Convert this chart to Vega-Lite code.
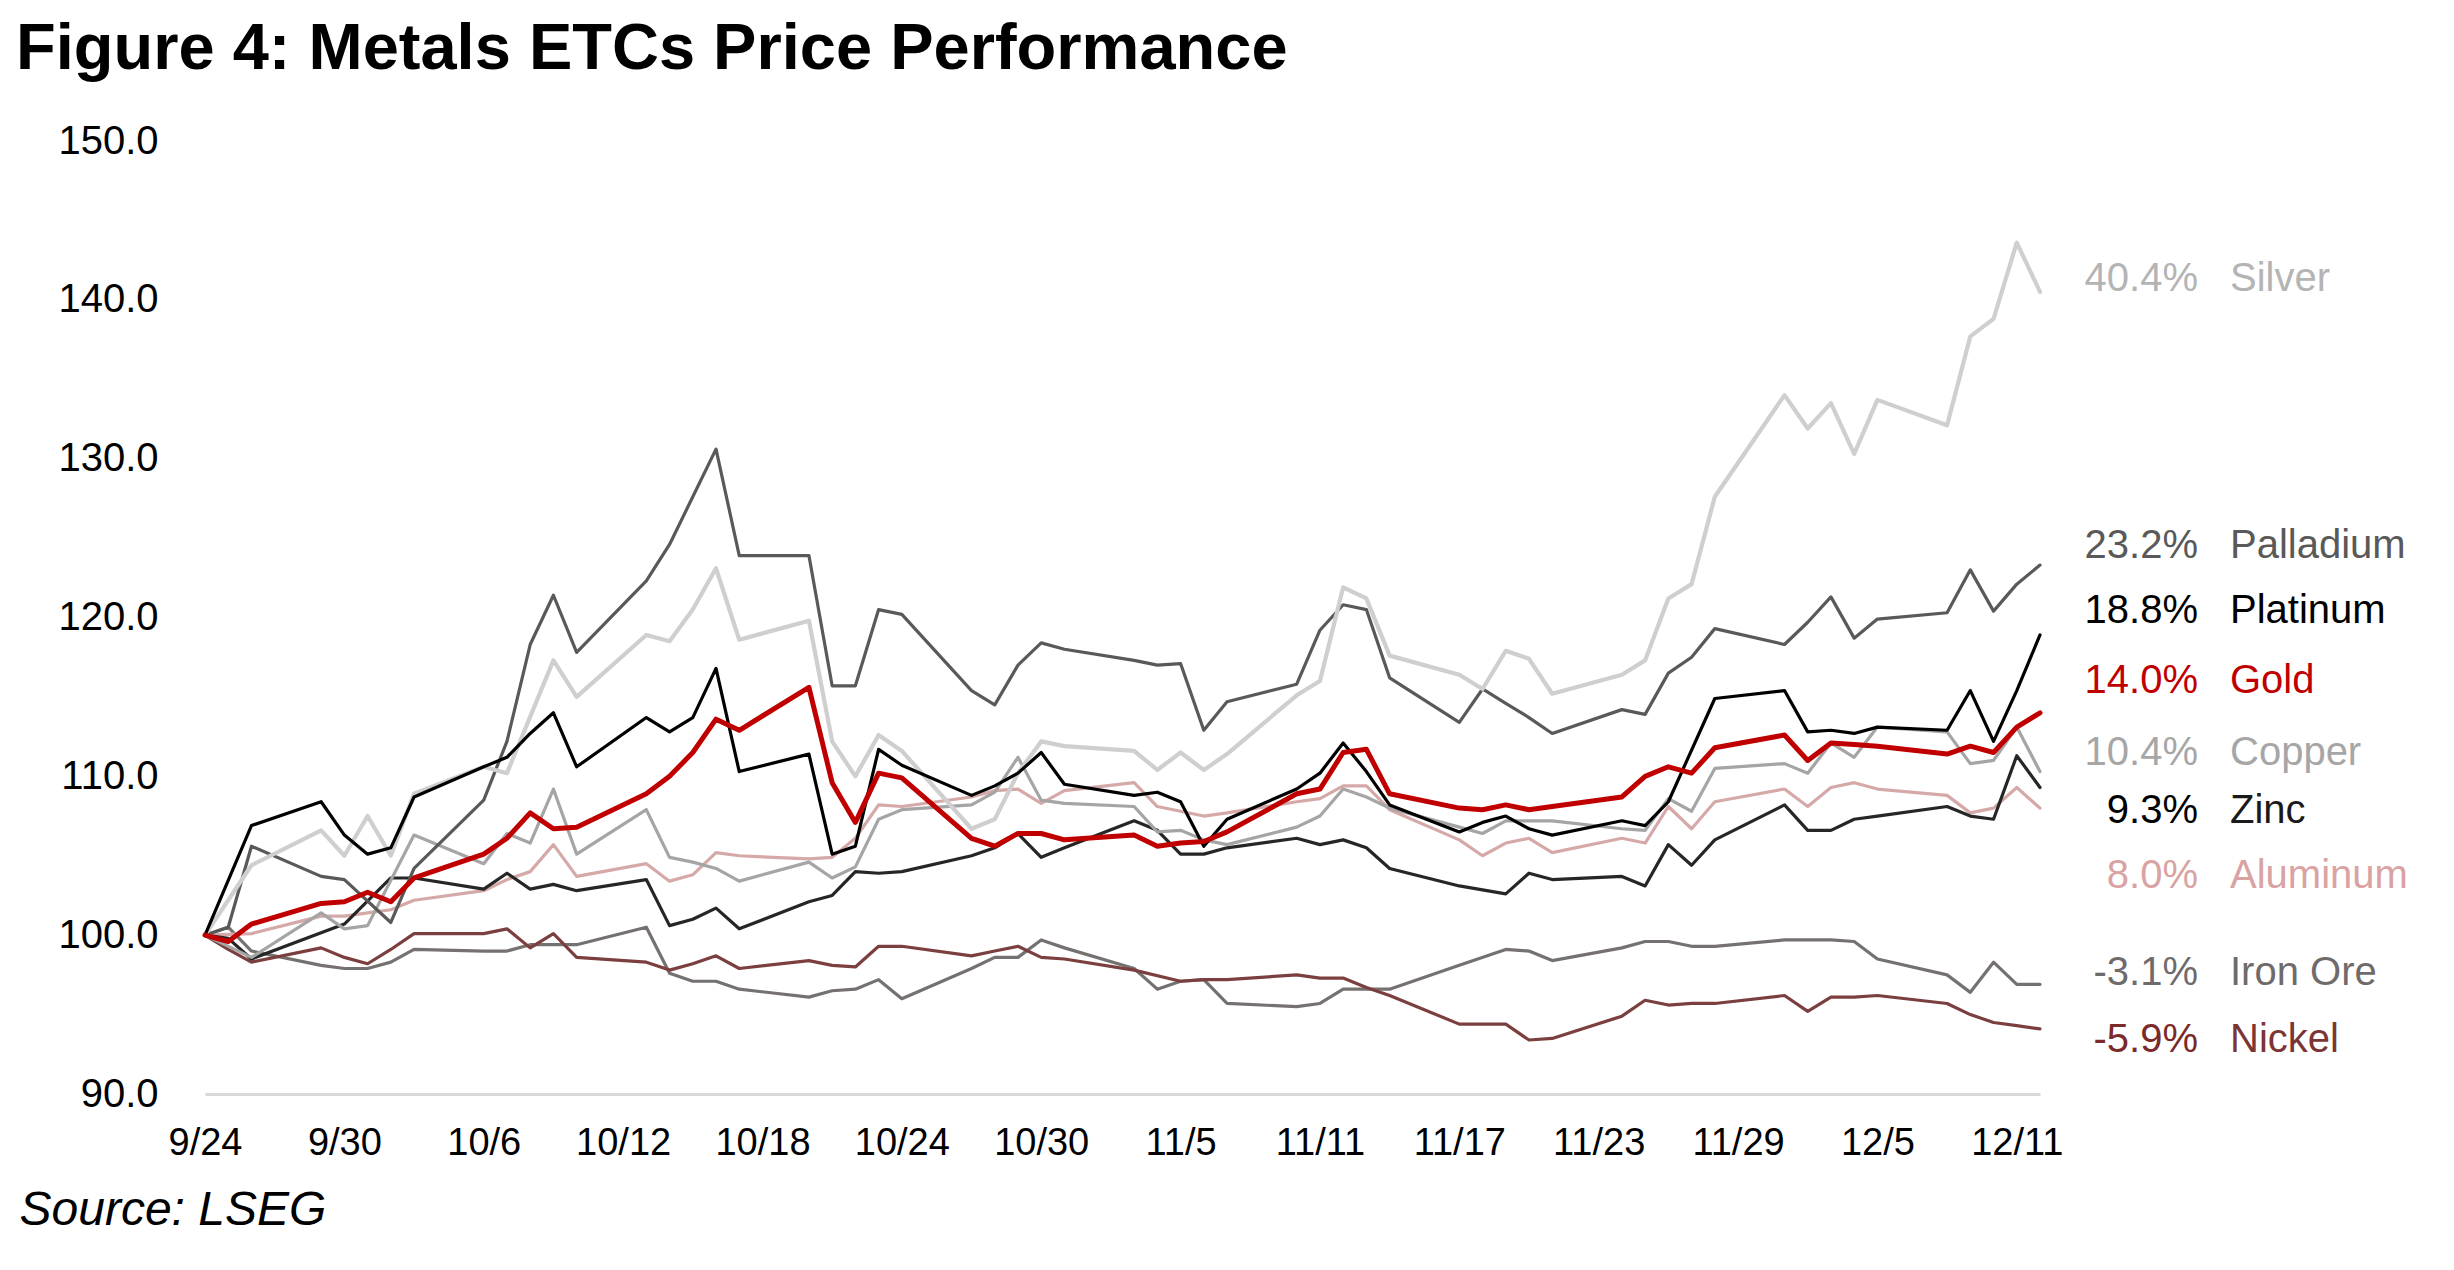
{
  "$schema": "https://vega.github.io/schema/vega-lite/v6.json",
  "width": 1835,
  "height": 953,
  "autosize": {"type": "none"},
  "padding": {"left": 205, "top": 141, "right": 414, "bottom": 176},
  "background": "white",
  "title": {
    "text": "Figure 4: Metals ETCs Price Performance",
    "anchor": "start",
    "frame": "group",
    "font": "Liberation Sans",
    "fontSize": 65,
    "fontWeight": "bold",
    "color": "#000000",
    "dx": -189,
    "offset": 38
  },
  "datasets": {
    "prices": [
      {"date":"2025-09-24","Silver":100,"Palladium":100,"Platinum":100,"Gold":100,"Copper":100,"Zinc":100,"Aluminum":100,"Iron Ore":100,"Nickel":100},
      {"date":"2025-09-25","Palladium":100.5,"Gold":99.6,"Zinc":99.8,"Iron Ore":100.5,"Nickel":99.1},
      {"date":"2025-09-26","Silver":104.4,"Palladium":105.6,"Platinum":106.9,"Gold":100.7,"Copper":98.6,"Zinc":98.5,"Aluminum":100.1,"Iron Ore":99.0,"Nickel":98.3},
      {"date":"2025-09-29","Silver":106.6,"Palladium":103.7,"Platinum":108.4,"Gold":102.0,"Copper":101.4,"Aluminum":101.2,"Iron Ore":98.1,"Nickel":99.2},
      {"date":"2025-09-30","Silver":105.0,"Palladium":103.5,"Platinum":106.3,"Gold":102.1,"Copper":100.4,"Zinc":100.7,"Aluminum":101.2,"Iron Ore":97.9,"Nickel":98.6},
      {"date":"2025-10-01","Silver":107.5,"Platinum":105.1,"Gold":102.7,"Copper":100.6,"Aluminum":101.4,"Iron Ore":97.9,"Nickel":98.2},
      {"date":"2025-10-02","Silver":105.0,"Palladium":100.8,"Platinum":105.5,"Gold":102.1,"Zinc":103.6,"Aluminum":101.6,"Iron Ore":98.3,"Nickel":99.1},
      {"date":"2025-10-03","Silver":108.9,"Palladium":104.2,"Platinum":108.7,"Gold":103.6,"Copper":106.3,"Zinc":103.6,"Aluminum":102.2,"Iron Ore":99.1,"Nickel":100.1},
      {"date":"2025-10-06","Silver":110.6,"Palladium":108.5,"Platinum":110.6,"Gold":105.1,"Copper":104.5,"Zinc":102.9,"Aluminum":102.8,"Iron Ore":99.0,"Nickel":100.1},
      {"date":"2025-10-07","Silver":110.2,"Palladium":112.2,"Platinum":111.2,"Gold":106.1,"Copper":106.4,"Zinc":103.9,"Aluminum":103.5,"Iron Ore":99.0,"Nickel":100.4},
      {"date":"2025-10-08","Palladium":118.3,"Platinum":112.7,"Gold":107.7,"Copper":105.8,"Zinc":102.9,"Aluminum":104.0,"Iron Ore":99.4,"Nickel":99.2},
      {"date":"2025-10-09","Silver":117.3,"Palladium":121.4,"Platinum":114.0,"Gold":106.7,"Copper":109.2,"Zinc":103.2,"Aluminum":105.7,"Iron Ore":99.4,"Nickel":100.1},
      {"date":"2025-10-10","Silver":115.0,"Palladium":117.8,"Platinum":110.6,"Gold":106.8,"Copper":105.1,"Zinc":102.8,"Aluminum":103.7,"Iron Ore":99.4,"Nickel":98.6},
      {"date":"2025-10-13","Silver":118.9,"Palladium":122.3,"Platinum":113.7,"Gold":108.9,"Copper":107.9,"Zinc":103.5,"Aluminum":104.5,"Iron Ore":100.5,"Nickel":98.3},
      {"date":"2025-10-14","Silver":118.5,"Palladium":124.6,"Platinum":112.8,"Gold":110.0,"Copper":104.9,"Zinc":100.6,"Aluminum":103.4,"Iron Ore":97.6,"Nickel":97.8},
      {"date":"2025-10-15","Silver":120.5,"Palladium":127.6,"Platinum":113.7,"Gold":111.5,"Copper":104.6,"Zinc":101.0,"Aluminum":103.8,"Iron Ore":97.1,"Nickel":98.2},
      {"date":"2025-10-16","Silver":123.1,"Palladium":130.6,"Platinum":116.8,"Gold":113.6,"Copper":104.2,"Zinc":101.7,"Aluminum":105.2,"Iron Ore":97.1,"Nickel":98.7},
      {"date":"2025-10-17","Silver":118.6,"Palladium":123.9,"Platinum":110.3,"Gold":112.9,"Copper":103.4,"Zinc":100.4,"Aluminum":105.0,"Iron Ore":96.6,"Nickel":97.9},
      {"date":"2025-10-20","Silver":119.8,"Palladium":123.9,"Platinum":111.4,"Gold":115.6,"Copper":104.6,"Zinc":102.1,"Aluminum":104.8,"Iron Ore":96.1,"Nickel":98.4},
      {"date":"2025-10-21","Silver":112.2,"Palladium":115.7,"Platinum":105.1,"Gold":109.6,"Copper":103.6,"Zinc":102.5,"Aluminum":104.9,"Iron Ore":96.5,"Nickel":98.1},
      {"date":"2025-10-22","Silver":110.0,"Palladium":115.7,"Platinum":105.6,"Gold":107.1,"Copper":104.3,"Zinc":104.0,"Aluminum":106.1,"Iron Ore":96.6,"Nickel":98.0},
      {"date":"2025-10-23","Silver":112.6,"Palladium":120.5,"Platinum":111.7,"Gold":110.2,"Copper":107.3,"Zinc":103.9,"Aluminum":108.2,"Iron Ore":97.2,"Nickel":99.3},
      {"date":"2025-10-24","Silver":111.6,"Palladium":120.2,"Platinum":110.7,"Gold":109.9,"Copper":107.9,"Zinc":104.0,"Aluminum":108.1,"Iron Ore":96.0,"Nickel":99.3},
      {"date":"2025-10-27","Silver":106.7,"Palladium":115.4,"Platinum":108.8,"Gold":106.1,"Copper":108.2,"Zinc":105.0,"Aluminum":108.7,"Iron Ore":97.9,"Nickel":98.7},
      {"date":"2025-10-28","Silver":107.3,"Palladium":114.5,"Platinum":109.4,"Gold":105.6,"Copper":109.0,"Zinc":105.5,"Aluminum":109.1,"Iron Ore":98.6,"Nickel":99.0},
      {"date":"2025-10-29","Silver":110.2,"Palladium":117.0,"Platinum":110.2,"Gold":106.4,"Copper":111.2,"Zinc":106.4,"Aluminum":109.2,"Iron Ore":98.6,"Nickel":99.3},
      {"date":"2025-10-30","Silver":112.2,"Palladium":118.4,"Platinum":111.5,"Gold":106.4,"Copper":108.5,"Zinc":104.9,"Aluminum":108.3,"Iron Ore":99.7,"Nickel":98.6},
      {"date":"2025-10-31","Silver":111.9,"Palladium":118.0,"Platinum":109.5,"Gold":106.0,"Copper":108.3,"Zinc":105.5,"Aluminum":109.1,"Iron Ore":99.2,"Nickel":98.5},
      {"date":"2025-11-03","Silver":111.6,"Palladium":117.3,"Platinum":108.8,"Gold":106.3,"Copper":108.1,"Zinc":107.2,"Aluminum":109.6,"Iron Ore":97.9,"Nickel":97.8},
      {"date":"2025-11-04","Silver":110.4,"Palladium":117.0,"Platinum":109.0,"Gold":105.6,"Copper":106.5,"Zinc":106.6,"Aluminum":108.1,"Iron Ore":96.6},
      {"date":"2025-11-05","Silver":111.5,"Palladium":117.1,"Platinum":108.4,"Gold":105.8,"Copper":106.6,"Zinc":105.1,"Aluminum":107.8,"Iron Ore":97.1,"Nickel":97.1},
      {"date":"2025-11-06","Silver":110.4,"Palladium":112.9,"Platinum":105.6,"Gold":105.9,"Copper":106.0,"Zinc":105.1,"Aluminum":107.5,"Iron Ore":97.2,"Nickel":97.2},
      {"date":"2025-11-07","Silver":111.4,"Palladium":114.7,"Platinum":107.3,"Gold":106.5,"Copper":105.7,"Zinc":105.5,"Aluminum":107.7,"Iron Ore":95.7,"Nickel":97.2},
      {"date":"2025-11-10","Silver":115.1,"Palladium":115.8,"Platinum":109.2,"Gold":108.9,"Copper":106.8,"Zinc":106.1,"Aluminum":108.4,"Iron Ore":95.5,"Nickel":97.5},
      {"date":"2025-11-11","Silver":116.0,"Palladium":119.2,"Platinum":110.2,"Gold":109.2,"Copper":107.5,"Zinc":105.7,"Aluminum":108.6,"Iron Ore":95.7,"Nickel":97.3},
      {"date":"2025-11-12","Silver":121.9,"Palladium":120.8,"Platinum":112.1,"Gold":111.5,"Copper":109.2,"Zinc":106.0,"Aluminum":109.4,"Iron Ore":96.6,"Nickel":97.3},
      {"date":"2025-11-13","Silver":121.2,"Palladium":120.5,"Platinum":110.3,"Gold":111.7,"Copper":108.7,"Zinc":105.5,"Aluminum":109.4,"Iron Ore":96.6,"Nickel":96.7},
      {"date":"2025-11-14","Silver":117.6,"Palladium":116.2,"Platinum":108.2,"Gold":108.9,"Copper":108.0,"Zinc":104.2,"Aluminum":107.9,"Iron Ore":96.6,"Nickel":96.2},
      {"date":"2025-11-17","Silver":116.4,"Palladium":113.4,"Platinum":106.5,"Gold":108.0,"Copper":106.8,"Zinc":103.1,"Aluminum":106.0,"Iron Ore":98.1,"Nickel":94.4},
      {"date":"2025-11-18","Silver":115.5,"Palladium":115.5,"Platinum":107.1,"Gold":107.9,"Copper":106.4,"Aluminum":105.0},
      {"date":"2025-11-19","Silver":117.9,"Palladium":114.6,"Platinum":107.5,"Gold":108.2,"Copper":107.2,"Zinc":102.6,"Aluminum":105.8,"Iron Ore":99.1,"Nickel":94.4},
      {"date":"2025-11-20","Silver":117.4,"Palladium":113.7,"Platinum":106.7,"Gold":107.9,"Copper":107.2,"Zinc":103.9,"Aluminum":106.1,"Iron Ore":99.0,"Nickel":93.4},
      {"date":"2025-11-21","Silver":115.2,"Palladium":112.7,"Platinum":106.3,"Gold":108.1,"Copper":107.2,"Zinc":103.5,"Aluminum":105.2,"Iron Ore":98.4,"Nickel":93.5},
      {"date":"2025-11-24","Silver":116.4,"Palladium":114.2,"Platinum":107.2,"Gold":108.7,"Copper":106.7,"Zinc":103.7,"Aluminum":106.1,"Iron Ore":99.2,"Nickel":94.9},
      {"date":"2025-11-25","Silver":117.3,"Palladium":113.9,"Platinum":106.9,"Gold":110.0,"Copper":106.6,"Zinc":103.1,"Aluminum":105.8,"Iron Ore":99.6,"Nickel":95.9},
      {"date":"2025-11-26","Silver":121.2,"Palladium":116.5,"Platinum":108.4,"Gold":110.6,"Copper":108.6,"Zinc":105.7,"Aluminum":108.1,"Iron Ore":99.6,"Nickel":95.6},
      {"date":"2025-11-27","Silver":122.1,"Palladium":117.5,"Gold":110.2,"Copper":107.8,"Zinc":104.4,"Aluminum":106.7,"Iron Ore":99.3,"Nickel":95.7},
      {"date":"2025-11-28","Silver":127.6,"Palladium":119.3,"Platinum":114.9,"Gold":111.8,"Copper":110.5,"Zinc":106.0,"Aluminum":108.4,"Iron Ore":99.3,"Nickel":95.7},
      {"date":"2025-12-01","Silver":134.0,"Palladium":118.3,"Platinum":115.4,"Gold":112.6,"Copper":110.8,"Zinc":108.2,"Aluminum":109.2,"Iron Ore":99.7,"Nickel":96.2},
      {"date":"2025-12-02","Silver":131.9,"Palladium":119.7,"Platinum":112.8,"Gold":111.0,"Copper":110.2,"Zinc":106.6,"Aluminum":108.1,"Iron Ore":99.7,"Nickel":95.2},
      {"date":"2025-12-03","Silver":133.5,"Palladium":121.3,"Platinum":112.9,"Gold":112.1,"Copper":112.1,"Zinc":106.6,"Aluminum":109.3,"Iron Ore":99.7,"Nickel":96.1},
      {"date":"2025-12-04","Silver":130.3,"Palladium":118.7,"Platinum":112.7,"Gold":112.0,"Copper":111.2,"Zinc":107.3,"Aluminum":109.6,"Iron Ore":99.6,"Nickel":96.1},
      {"date":"2025-12-05","Silver":133.7,"Palladium":119.9,"Platinum":113.1,"Gold":111.9,"Copper":113.1,"Zinc":107.5,"Aluminum":109.2,"Iron Ore":98.5,"Nickel":96.2},
      {"date":"2025-12-08","Silver":132.1,"Palladium":120.3,"Platinum":112.9,"Gold":111.4,"Copper":112.8,"Zinc":108.1,"Aluminum":108.8,"Iron Ore":97.5,"Nickel":95.7},
      {"date":"2025-12-09","Silver":137.7,"Palladium":123.0,"Platinum":115.4,"Gold":111.9,"Copper":110.8,"Zinc":107.5,"Aluminum":107.7,"Iron Ore":96.4,"Nickel":95.0},
      {"date":"2025-12-10","Silver":138.8,"Palladium":120.4,"Platinum":112.2,"Gold":111.5,"Copper":111.0,"Zinc":107.3,"Aluminum":108.0,"Iron Ore":98.3,"Nickel":94.5},
      {"date":"2025-12-11","Silver":143.6,"Palladium":122.1,"Platinum":115.4,"Gold":113.1,"Copper":113.1,"Zinc":111.3,"Aluminum":109.3,"Iron Ore":96.9,"Nickel":94.3},
      {"date":"2025-12-12","Silver":140.5,"Palladium":123.3,"Platinum":118.9,"Gold":114.0,"Copper":110.3,"Zinc":109.3,"Aluminum":108.0,"Iron Ore":96.9,"Nickel":94.1}
    ],
    "labels": [
      {"metal":"Silver","pct":"40.4%","ly":141.3},
      {"metal":"Palladium","pct":"23.2%","ly":124.5},
      {"metal":"Platinum","pct":"18.8%","ly":120.4},
      {"metal":"Gold","pct":"14.0%","ly":116.0},
      {"metal":"Copper","pct":"10.4%","ly":111.5},
      {"metal":"Zinc","pct":"9.3%","ly":107.8},
      {"metal":"Aluminum","pct":"8.0%","ly":103.7},
      {"metal":"Iron Ore","pct":"-3.1%","ly":97.6},
      {"metal":"Nickel","pct":"-5.9%","ly":93.4}
    ]
  },
  "layer": [
    {
      "data": {"name": "prices"},
      "transform": [
        {"fold": ["Iron Ore","Nickel","Aluminum","Zinc","Copper","Palladium","Silver","Platinum","Gold"], "as": ["metal","value"]},
        {"filter": "isValid(datum.value)"}
      ],
      "mark": {"type": "line", "strokeJoin": "round", "strokeCap": "round"},
      "encoding": {
        "x": {
          "field": "date", "type": "temporal",
          "scale": {"type": "utc", "domain": [{"year":2025,"month":9,"date":24,"utc":true},{"year":2025,"month":12,"date":12,"utc":true}]},
          "axis": {
            "values": [
              {"year":2025,"month":9,"date":24,"utc":true},
              {"year":2025,"month":9,"date":30,"utc":true},
              {"year":2025,"month":10,"date":6,"utc":true},
              {"year":2025,"month":10,"date":12,"utc":true},
              {"year":2025,"month":10,"date":18,"utc":true},
              {"year":2025,"month":10,"date":24,"utc":true},
              {"year":2025,"month":10,"date":30,"utc":true},
              {"year":2025,"month":11,"date":5,"utc":true},
              {"year":2025,"month":11,"date":11,"utc":true},
              {"year":2025,"month":11,"date":17,"utc":true},
              {"year":2025,"month":11,"date":23,"utc":true},
              {"year":2025,"month":11,"date":29,"utc":true},
              {"year":2025,"month":12,"date":5,"utc":true},
              {"year":2025,"month":12,"date":11,"utc":true}
            ],
            "format": "%-m/%-d",
            "labelFont": "Liberation Sans Narrow, Arial Narrow, Liberation Sans, sans-serif",
            "labelFontSize": 38,
            "labelColor": "#000000",
            "labelBaseline": "top",
            "labelPadding": 30,
            "labelOverlap": false,
            "labelFlush": false,
            "ticks": false,
            "grid": false,
            "domainColor": "#d9d9d9",
            "domainWidth": 3,
            "title": "Source: LSEG",
            "titleFont": "Liberation Sans",
            "titleFontStyle": "italic",
            "titleFontWeight": "normal",
            "titleFontSize": 48,
            "titleColor": "#000000",
            "titleAnchor": "start",
            "titleAlign": "left",
            "titleBaseline": "alphabetic",
            "titleX": -186,
            "titleY": 130
          }
        },
        "y": {
          "field": "value", "type": "quantitative",
          "scale": {"domain": [90, 150], "nice": false, "zero": false},
          "axis": {
            "values": [90, 100, 110, 120, 130, 140, 150],
            "format": ".1f",
            "labelFont": "Liberation Sans",
            "labelFontSize": 40,
            "labelColor": "#000000",
            "labelPadding": 47,
            "ticks": false,
            "domain": false,
            "grid": false,
            "title": null
          }
        },
        "color": {
          "field": "metal", "type": "nominal",
          "scale": {
            "domain": ["Silver","Palladium","Platinum","Gold","Copper","Zinc","Aluminum","Iron Ore","Nickel"],
            "range": ["#d0cece","#595959","#000000","#c00000","#a5a5a5","#262626","#d6a9a9","#767171","#7b3f3f"]
          },
          "legend": null
        },
        "strokeWidth": {
          "condition": [
            {"test": "datum.metal === 'Gold'", "value": 5},
            {"test": "datum.metal === 'Silver'", "value": 4.2}
          ],
          "value": 3.2
        }
      }
    },
    {
      "data": {"name": "labels"},
      "mark": {"type": "text", "align": "right", "baseline": "middle", "dx": 158, "font": "Liberation Sans", "fontSize": 40},
      "encoding": {
        "x": {"datum": {"year":2025,"month":12,"date":12,"utc":true}, "type": "temporal"},
        "y": {"field": "ly", "type": "quantitative"},
        "text": {"field": "pct"},
        "color": {
          "field": "metal", "type": "nominal",
          "scale": {
            "domain": ["Silver","Palladium","Platinum","Gold","Copper","Zinc","Aluminum","Iron Ore","Nickel"],
            "range": ["#b4b4b4","#595959","#000000","#c00000","#a6a6a6","#000000","#d9a3a3","#6f6b6b","#7b2a2a"]
          },
          "legend": null
        }
      }
    },
    {
      "data": {"name": "labels"},
      "mark": {"type": "text", "align": "left", "baseline": "middle", "dx": 190, "font": "Liberation Sans", "fontSize": 40},
      "encoding": {
        "x": {"datum": {"year":2025,"month":12,"date":12,"utc":true}, "type": "temporal"},
        "y": {"field": "ly", "type": "quantitative"},
        "text": {"field": "metal"},
        "color": {
          "field": "metal", "type": "nominal",
          "scale": {
            "domain": ["Silver","Palladium","Platinum","Gold","Copper","Zinc","Aluminum","Iron Ore","Nickel"],
            "range": ["#b4b4b4","#595959","#000000","#c00000","#a6a6a6","#1a1a1a","#d9a3a3","#6f6b6b","#7b3535"]
          },
          "legend": null
        }
      }
    }
  ],
  "resolve": {"scale": {"color": "independent"}},
  "config": {
    "view": {"stroke": null},
    "font": "Liberation Sans"
  }
}
